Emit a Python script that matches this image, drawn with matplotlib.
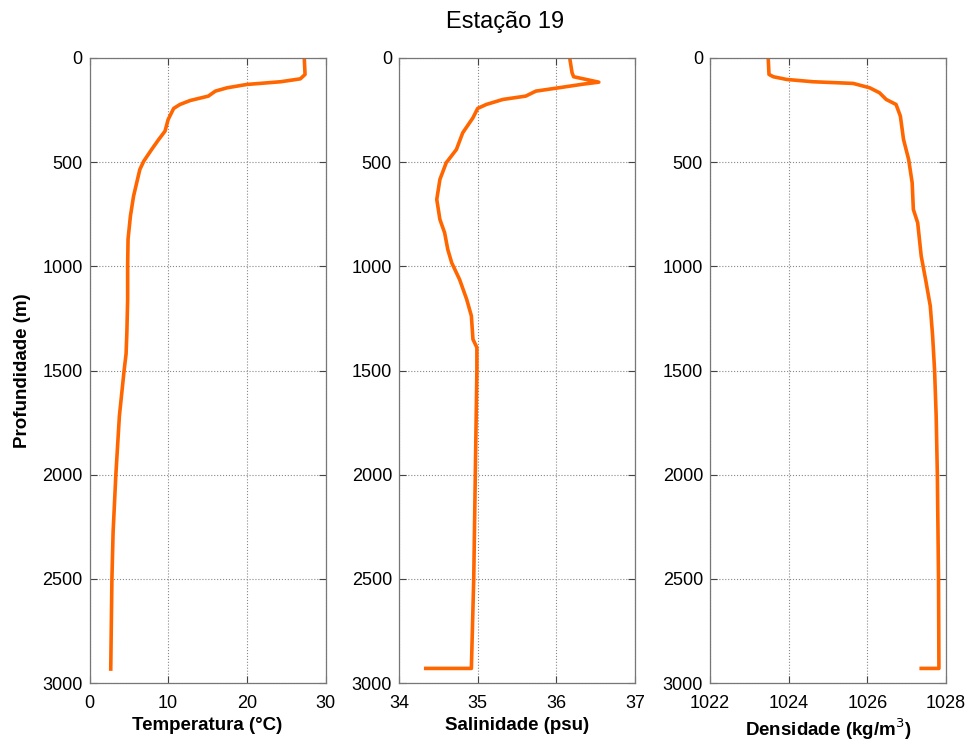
import matplotlib.pyplot as plt

plt.rcParams['font.family'] = ['Liberation Sans', 'DejaVu Sans']

# Temperature profile
depth_t = [0, 79, 100, 114, 127, 143, 159, 183, 204, 223, 242, 295, 351, 391, 439,
           495, 535, 599, 663, 759, 870, 998, 1158, 1317, 1420, 1500, 1718, 2000, 2276, 2500, 2933]
temp = [27.3, 27.4, 26.8, 24.3, 20.0, 17.5, 16.0, 15.1, 12.8, 11.5, 10.7, 10.0, 9.6, 8.8, 7.9,
        6.9, 6.4, 6.0, 5.6, 5.2, 4.9, 4.85, 4.85, 4.75, 4.65, 4.4, 3.8, 3.35, 3.0, 2.85, 2.7]

# Salinity profile
depth_s = [0, 71, 90, 116, 125, 143, 159, 183, 199, 223, 242, 287, 359, 439, 503, 583,
           679, 775, 839, 919, 983, 1063, 1158, 1238, 1350, 1390, 1500, 2000, 2500, 2930, 2930]
sal = [36.17, 36.20, 36.22, 36.54, 36.35, 36.03, 35.74, 35.61, 35.32, 35.11, 35.0, 34.94,
       34.81, 34.73, 34.60, 34.52, 34.48, 34.52, 34.58, 34.62, 34.67, 34.77, 34.86, 34.92,
       34.94, 34.99, 34.99, 34.97, 34.95, 34.92, 34.34]

# Density profile
depth_d = [0, 79, 90, 103, 114, 122, 143, 167, 199, 223, 279, 391, 487, 599, 727, 791,
           951, 1062, 1190, 1334, 1500, 1718, 2000, 2500, 2930, 2930]
dens = [1023.48, 1023.5, 1023.61, 1023.95, 1024.62, 1025.64, 1026.06, 1026.31, 1026.48,
        1026.73, 1026.84, 1026.92, 1027.05, 1027.14, 1027.17, 1027.28, 1027.37, 1027.48,
        1027.6, 1027.66, 1027.71, 1027.75, 1027.78, 1027.81, 1027.82, 1027.37]

xlabels = ['Temperatura (°C)', 'Salinidade (psu)', 'Densidade (kg/m$^3$)']
xlims = [(0, 30), (34, 37), (1022, 1028)]
xticks = [[0, 10, 20, 30], [34, 35, 36, 37], [1022, 1024, 1026, 1028]]
yticks = [0, 500, 1000, 1500, 2000, 2500, 3000]

fig = plt.figure(figsize=(9.71, 7.44), dpi=100)
lefts = [89.5, 399, 710]
W, H = 971, 744
axes = [fig.add_axes([l / W, (H - 683) / H, 236 / W, 625 / H]) for l in lefts]

profiles = [(temp, depth_t), (sal, depth_s), (dens, depth_d)]
for i, ax in enumerate(axes):
    x, d = profiles[i]
    ax.plot(x, d, color='#ff6600', linewidth=2.6)
    ax.set_xlim(*xlims[i])
    ax.set_ylim(3000, 0)
    ax.set_xticks(xticks[i])
    ax.set_yticks(yticks)
    ax.grid(True, linestyle=':', color='#888888', linewidth=0.8)
    ax.tick_params(direction='in', top=True, right=True, length=5,
                   labelsize=13, color='#444444', width=0.8)
    ax.tick_params(axis='x', pad=9)
    ax.tick_params(axis='y', pad=5)
    for s in ax.spines.values():
        s.set_color('#777777')
        s.set_linewidth(0.9)
    ax.set_xlabel(xlabels[i], fontsize=13.5, fontweight='bold', labelpad=3)

axes[0].set_ylabel('Profundidade (m)', fontsize=13.5, fontweight='bold', labelpad=8)

fig.text(505 / W, 1 - 22 / H, 'Estação 19', fontsize=17, ha='center', va='center')

fig.savefig('out.png', dpi=100)
